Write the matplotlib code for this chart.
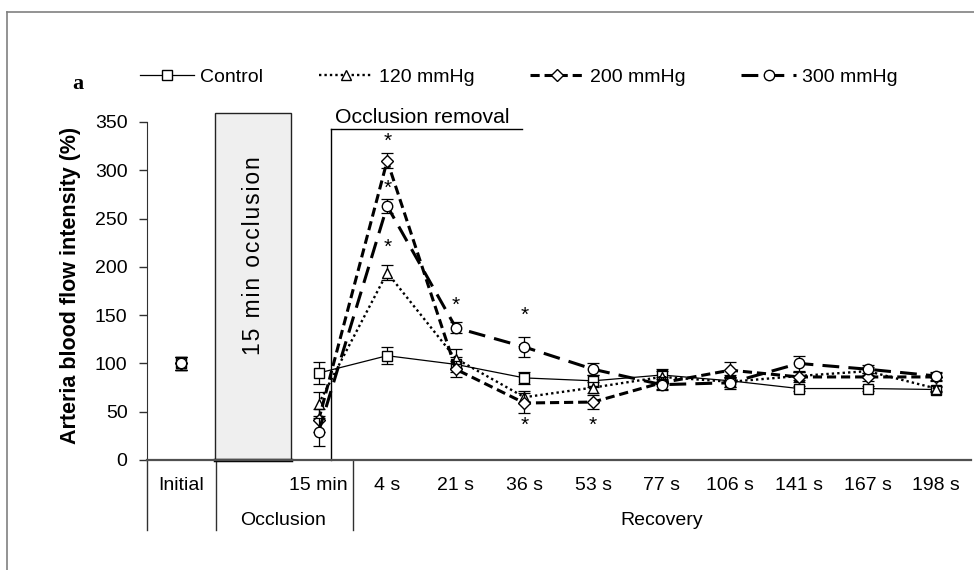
import numpy as np
import matplotlib
matplotlib.use("Agg")
import matplotlib.pyplot as plt
from matplotlib.lines import Line2D
from matplotlib.patches import Rectangle

plt.rcParams['font.family'] = ['Liberation Sans', 'DejaVu Sans']

# ---------------- data ----------------
categories = ["Initial", "", "15 min", "4 s", "21 s", "36 s", "53 s",
              "77 s", "106 s", "141 s", "167 s", "198 s"]
nan = np.nan
series_names = ["Control", "120 mmHg", "200 mmHg", "300 mmHg"]
control = [100, nan, 90, 108, 99, 85, 82, 88, 82, 74, 74, 73]
p120 = [100, nan, 58, 194, 105, 65, 75, 86, 81, 87, 92, 74]
p200 = [100, nan, 41, 310, 94, 59, 60, 80, 93, 86, 86, 86]
p300 = [100, nan, 29, 263, 137, 117, 94, 78, 80, 100, 94, 87]

err_control = [7, nan, 11, 9, 8, 6, 6, 6, 6, 3, 3, 3]
err_p120 = [7, nan, 12, 8, 10, 6, 6, 6, 5, 4, 4, 3]
err_p200 = [7, nan, 12, 8, 8, 10, 7, 6, 8, 5, 4, 4]
err_p300 = [7, nan, 14, 7, 6, 10, 6, 6, 6, 8, 4, 4]

sig_cat = [3, 3, 3, 4, 5, 5, 6]
sig_val = [330, 281, 220, 160, 150, 36, 36]

y_ticks = [0, 50, 100, 150, 200, 250, 300, 350]
group_labels = ["Occlusion", "Recovery"]
group_pos = [1.48, 7.0]
box_label = "15 min occlusion"

# ---------------- figure ----------------
fig = plt.figure(figsize=(9.74, 5.70), dpi=100)
W, H = 974, 570
ax = fig.add_axes([147 / W, 1 - 460 / H, (970.5 - 147) / W, (460 - 122) / H])

x = np.arange(len(categories))
values = [control, p120, p200, p300]
errors = [err_control, err_p120, err_p200, err_p300]
styles = [
    dict(ls='-', lw=0.9, marker='s', ms=7),
    dict(ls=(0, (1, 1.3)), lw=1.7, marker='^', ms=7.5),
    dict(ls=(0, (3, 1.6)), lw=2.2, marker='D', ms=6.2),
    dict(ls=(0, (5.5, 3)), lw=2.2, marker='o', ms=7.5),
]

handles = []
for i, (vals, errs, st) in enumerate(zip(values, errors, styles)):
    vals = np.array(vals, dtype=float)
    errs = np.array(errs, dtype=float)
    ax.errorbar(x, vals, yerr=errs, fmt='none', ecolor='black', elinewidth=0.9,
                capsize=4.5, capthick=0.9, zorder=3 + i)
    h, = ax.plot(x, vals, color='black', linestyle=st['ls'], lw=st['lw'],
                 marker=st['marker'], ms=st['ms'], mfc='white', mec='black',
                 mew=1.0, zorder=4 + i, label=series_names[i])
    handles.append(h)

# significance asterisks
for c, v in zip(sig_cat, sig_val):
    ax.text(c, v, "*", ha='center', va='center', fontsize=15, zorder=10)

ax.set_xlim(-0.5, 11.5)
ax.set_ylim(0, 350)
ax.set_yticks(y_ticks)
ax.set_xticks(x)
ax.set_xticklabels(categories)
for s in ['top', 'right']:
    ax.spines[s].set_visible(False)
ax.spines['left'].set_color('#303030')
ax.spines['bottom'].set_color('#505050')
ax.spines['bottom'].set_linewidth(1.6)
ax.tick_params(axis='y', direction='out', length=6, width=1, pad=8,
               labelsize=14, colors='#303030', labelcolor='black')
ax.tick_params(axis='x', length=0, pad=12, labelsize=14)

# divider lines below axis
for xd in [-0.5, 0.5, 2.5]:
    ax.plot([xd, xd], [0, -72.5], color='#303030', lw=1, clip_on=False, zorder=1)

for lbl, xp in zip(group_labels, group_pos):
    ax.text(xp, -63, lbl, ha='center', va='center', fontsize=14, clip_on=False)

# occlusion box
ax.add_patch(Rectangle((0.49, 0), 1.11, 359, facecolor='#efefef',
                       edgecolor='#222222', lw=1.0, clip_on=False, zorder=2))
ax.plot([0.49, 1.6], [0, 0], color='black', lw=2.5, clip_on=False, zorder=2.5)
ax.text(1.05, 212, "\u200a".join(box_label), rotation=90, ha='center',
        va='center', fontsize=16.5, zorder=3)

# occlusion removal marker
ax.plot([2.18, 2.18], [0, 343], color='black', lw=1.0, clip_on=False, zorder=2)
ax.plot([2.18, 4.96], [343, 343], color='black', lw=1.0, clip_on=False, zorder=2)
ax.text(2.24, 349, "Occlusion removal", ha='left', va='baseline', fontsize=15.3,
        clip_on=False)

# y label and panel letter
fig.text(71 / W, 1 - 285 / H, "Arteria blood flow intensity (%)", rotation=90,
         ha='center', va='center', fontsize=15.5, fontweight='bold')
fig.text(78 / W, 1 - 84 / H, "a", ha='center', va='center', fontsize=16,
         fontweight='bold', family='Liberation Serif')

# legend
fig.legend(handles=handles, labels=series_names, loc='center left',
           bbox_to_anchor=(140 / W, 1 - 77 / H), ncol=4, frameon=False,
           fontsize=14, handlelength=2.8, handletextpad=0.3,
           columnspacing=2.85, borderpad=0, borderaxespad=0, numpoints=1)

# outer frame (left and top edges visible)
fig.add_artist(Line2D([7 / W, 7 / W], [0, 1 - 12 / H], color='#808080', lw=1.2,
                      transform=fig.transFigure))
fig.add_artist(Line2D([7 / W, 1], [1 - 12 / H, 1 - 12 / H], color='#808080',
                      lw=1.2, transform=fig.transFigure))

fig.savefig("out.png", dpi=100)
